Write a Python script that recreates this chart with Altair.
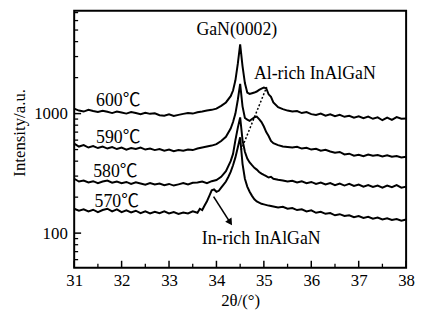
import altair as alt
import pandas as pd

# ---- data (2theta in degrees, intensity in a.u.) ----
TT = [31.0, 31.1, 31.2, 31.3, 31.4, 31.5, 31.6, 31.7, 31.8, 31.9,
      32.0, 32.1, 32.2, 32.3, 32.4, 32.5, 32.6, 32.7, 32.8, 32.9,
      33.0, 33.1, 33.2, 33.3, 33.4, 33.5, 33.6, 33.7, 33.8, 33.9,
      34.0, 34.1, 34.2, 34.3,
      34.35, 34.4, 34.45, 34.5, 34.55, 34.6, 34.65, 34.7, 34.75, 34.8,
      34.85, 34.9, 34.95, 35.0, 35.05, 35.1, 35.15, 35.2,
      35.3, 35.4, 35.5, 35.6, 35.7, 35.8, 35.9, 36.0, 36.1, 36.2,
      36.3, 36.4, 36.5, 36.6, 36.7, 36.8, 36.9, 37.0, 37.1, 37.2,
      37.3, 37.4, 37.5, 37.6, 37.7, 37.8, 37.9, 38.0]

I_600 = [1100, 1060, 1040, 1075, 1050, 1030, 1055, 1035, 1010, 1040,
         1020, 1000, 1030, 1010, 990, 1015, 995, 1005, 970, 960,
         985, 955, 975, 995, 1010, 1000, 1025, 1040, 1060, 1075,
         1100, 1160, 1240, 1400,
         1560, 1900, 2600, 3790, 2500, 1800, 1500, 1460, 1480, 1500,
         1530, 1580, 1620, 1650, 1630, 1450, 1380, 1240,
         1130, 1090, 1060, 1040, 1050, 1010, 1030, 990, 975, 1000,
         960, 985, 950, 975, 940, 960, 925, 950, 915, 945,
         905, 930, 880, 925, 885, 935, 905, 910]

I_590 = [560, 530, 545, 520, 535, 515, 530, 510, 525, 505,
         520, 500, 515, 505, 520, 500, 510, 495, 505, 490,
         500, 485, 495, 490, 500, 495, 510, 520, 530, 540,
         555, 590, 640, 750,
         850, 1000, 1300, 1770, 1150, 920, 890, 870, 900, 930,
         945, 900, 850, 780, 700, 650, 590, 565,
         545, 530, 525, 520, 528, 510, 518, 500, 508, 490,
         498, 482, 470, 478, 455, 462, 445, 452, 440, 455,
         445, 450, 438, 448, 435, 442, 430, 435]

I_580 = [285, 270, 275, 265, 272, 262, 270, 275, 264, 270,
         262, 268, 258, 266, 260, 254, 262, 255, 260, 252,
         258, 250, 256, 262, 255, 264, 265, 270, 262, 272,
         278, 296, 330, 400,
         460, 600, 760, 930, 600, 480, 420, 390, 370, 352,
         340, 325, 315, 307, 300, 292, 296, 285,
         280, 276, 270, 274, 265, 271, 262, 268, 258, 265,
         255, 262, 252, 260, 250, 258, 248, 255, 245, 252,
         243, 250, 240, 250, 242, 252, 240, 245]

TT_570 = [31.0, 31.1, 31.2, 31.3, 31.4, 31.5, 31.6, 31.7, 31.8, 31.9,
          32.0, 32.1, 32.2, 32.3, 32.4, 32.5, 32.6, 32.7, 32.8, 32.9,
          33.0, 33.1, 33.2, 33.3, 33.4, 33.5, 33.6,
          33.65, 33.7, 33.75, 33.8, 33.85, 33.9, 33.95, 34.0, 34.05, 34.1,
          34.15, 34.2, 34.25, 34.3, 34.35, 34.4, 34.45, 34.5, 34.55, 34.6,
          34.65, 34.7, 34.75, 34.8, 34.85, 34.9, 34.95, 35.0,
          35.1, 35.2, 35.3, 35.4, 35.5, 35.6, 35.7, 35.8, 35.9, 36.0,
          36.1, 36.2, 36.3, 36.4, 36.5, 36.6, 36.7, 36.8, 36.9, 37.0,
          37.1, 37.2, 37.3, 37.4, 37.5, 37.6, 37.7, 37.8, 37.9, 38.0]

I_570 = [160, 154, 158, 152, 157, 150, 156, 160, 152, 158,
         150, 155, 149, 154, 147, 152, 146, 151, 147, 152,
         146, 150, 145, 149, 146, 152, 148,
         160, 156, 170, 185, 205, 228, 232, 222, 226, 240,
         255, 270, 295, 325, 370, 430, 520, 634, 380, 285,
         245, 222, 205, 192, 184, 180, 176, 174,
         170, 167, 164, 166, 160, 162, 156, 158, 152, 155,
         148, 151, 145, 147, 141, 144, 139, 141, 136, 139,
         134, 137, 132, 135, 130, 133, 129, 131, 127, 130]

TEMP_LABELS = ["600℃", "590℃", "580℃", "570℃"]
TEMP_TT = [31.46, 31.46, 31.40, 31.43]
TEMP_I = [1164, 565, 296, 167]

PEAK_LABEL = ["GaN(0002)"]
PEAK_TT = [34.43]
PEAK_I = [4580]

PHASE_LABELS = ["Al-rich InAlGaN", "In-rich InAlGaN"]
PHASE_TT = [34.79, 33.69]
PHASE_I = [1946, 81]

DOT_TT = [35.06, 34.52]
DOT_I = [1672, 495]

ARROW_TT = [33.94, 34.26]
ARROW_I = [202, 128]
HEAD_TT = [34.29]
HEAD_I = [123]

X_MAJOR = [31, 32, 33, 34, 35, 36, 37, 38]
X_MINOR = [31.5, 32.5, 33.5, 34.5, 35.5, 36.5, 37.5]
Y_MAJOR = [100, 1000]
Y_MINOR = [60, 70, 80, 90, 200, 300, 400, 500, 600, 700, 800, 900,
           2000, 3000, 4000, 5000, 6000, 7000]

# ---- build tables (every layer uses the same field names tt / I) ----
rows = []
for name, xs, ys in [("600", TT, I_600), ("590", TT, I_590),
                     ("580", TT, I_580), ("570", TT_570, I_570)]:
    for a, b in zip(xs, ys):
        rows.append({"tt": a, "I": b, "series": name})
curves = pd.DataFrame(rows)

FONT = "Liberation Serif"
W, H = 336, 260

xscale = alt.Scale(domain=[31, 38], nice=False, zero=False)
yscale = alt.Scale(type="log", domain=[51.4, 7240], nice=False)

x_axis = alt.Axis(values=X_MAJOR, format="d", title="2θ/(°)", domain=False,
                  ticks=False, tickSize=0, grid=False, labelPadding=5,
                  labelFont=FONT, labelFontSize=17, labelColor="black",
                  labelFlush=False, titleFont=FONT, titleFontSize=17,
                  titleFontWeight="normal", titleColor="black",
                  titleX=W / 2, titleY=33, titleBaseline="middle",
                  titleAlign="center")
y_axis = alt.Axis(values=Y_MAJOR, format="d", title="Intensity/a.u.",
                  domain=False, ticks=False, tickSize=0, grid=False,
                  labelPadding=7, labelFont=FONT, labelFontSize=17,
                  labelColor="black", labelFlush=False, titleFont=FONT,
                  titleFontSize=17, titleFontWeight="normal",
                  titleColor="black", titleX=-55, titleY=123,
                  titleAngle=270, titleAlign="center", titleBaseline="middle")

X = alt.X("tt:Q", scale=xscale)
Y = alt.Y("I:Q", scale=yscale)

lines = alt.Chart(curves).mark_line(color="black", strokeWidth=2).encode(
    x=alt.X("tt:Q", scale=xscale, axis=x_axis),
    y=alt.Y("I:Q", scale=yscale, axis=y_axis),
    detail="series:N",
)

temp_df = pd.DataFrame({"t": TEMP_LABELS, "tt": TEMP_TT, "I": TEMP_I})
temps = alt.Chart(temp_df).mark_text(
    align="left", baseline="alphabetic", font=FONT + ", Noto Sans CJK SC",
    fontSize=18, color="black").encode(text="t:N", x=X, y=Y)

peak_df = pd.DataFrame({"t": PEAK_LABEL, "tt": PEAK_TT, "I": PEAK_I})
peak = alt.Chart(peak_df).mark_text(
    align="center", baseline="alphabetic", font=FONT, fontSize=18,
    color="black").encode(text="t:N", x=X, y=Y)

phase_df = pd.DataFrame({"t": PHASE_LABELS, "tt": PHASE_TT, "I": PHASE_I})
phase = alt.Chart(phase_df).mark_text(
    align="left", baseline="alphabetic", font=FONT, fontSize=18,
    color="black").encode(text="t:N", x=X, y=Y)

dot_df = pd.DataFrame({"tt": DOT_TT, "I": DOT_I})
dotted = alt.Chart(dot_df).mark_line(
    color="black", strokeWidth=1.5, strokeDash=[2, 2]).encode(x=X, y=Y)

arrow_df = pd.DataFrame({"tt": ARROW_TT, "I": ARROW_I})
arrow = alt.Chart(arrow_df).mark_line(color="black", strokeWidth=1.6).encode(
    x=X, y=Y)
head_df = pd.DataFrame({"tt": HEAD_TT, "I": HEAD_I})
head = alt.Chart(head_df).mark_point(
    shape="triangle-up", filled=True, size=60, angle=146, color="black",
    opacity=1).encode(x=X, y=Y)

ymin = alt.Chart(pd.DataFrame({"I": Y_MINOR})).mark_rule(
    color="black", strokeWidth=1.3).encode(y=Y, x=alt.value(0), x2=alt.value(4))
ymaj = alt.Chart(pd.DataFrame({"I": Y_MAJOR})).mark_rule(
    color="black", strokeWidth=1.5).encode(y=Y, x=alt.value(0), x2=alt.value(7))
xmin = alt.Chart(pd.DataFrame({"tt": X_MINOR})).mark_rule(
    color="black", strokeWidth=1.3).encode(x=X, y=alt.value(H), y2=alt.value(H - 4))
xmaj = alt.Chart(pd.DataFrame({"tt": X_MAJOR})).mark_rule(
    color="black", strokeWidth=1.5).encode(x=X, y=alt.value(H), y2=alt.value(H - 7))

chart = alt.layer(
    lines, ymin, ymaj, xmin, xmaj, dotted, arrow, head, temps, peak, phase
).properties(
    width=W, height=H,
    autosize=alt.AutoSizeParams(type="none"),
    padding={"left": 67, "top": 1, "right": 10, "bottom": 43},
    background="white",
).configure_view(stroke="black", strokeWidth=2)

chart.save("out.html", embed_options={"renderer": "svg", "actions": False})
